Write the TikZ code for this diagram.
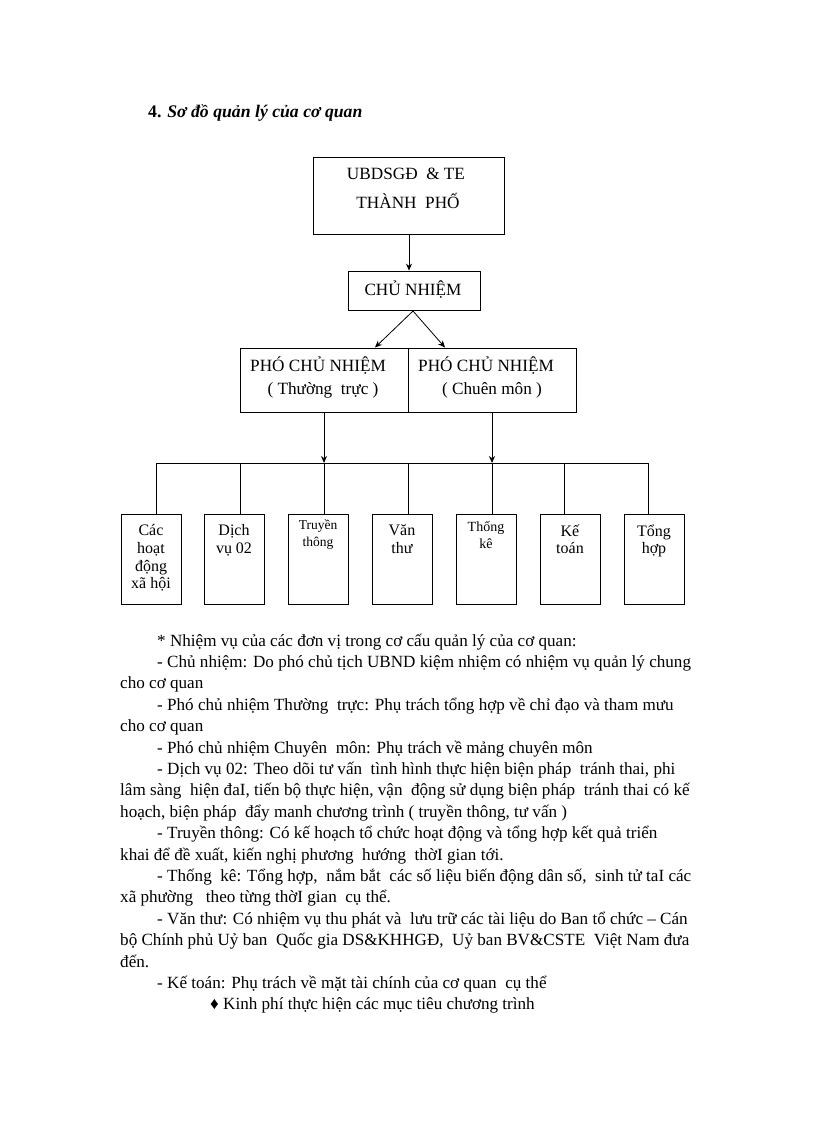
\documentclass[tikz,border=0pt]{standalone}
\usepackage{fontspec}
\setmainfont{Liberation Serif}
\usetikzlibrary{arrows.meta}
\begin{document}
\begin{tikzpicture}[x=1pt,y=-1pt,
 box/.style={draw, line width=0.8pt, inner sep=0pt},
 conn/.style={line width=0.8pt},
 arr/.style={conn,-{Stealth[length=7pt,width=6pt]}},
 lbl/.style={inner sep=0pt, font=\fontsize{17.2}{19}\selectfont},
 sml/.style={inner sep=0pt, align=center, anchor=north, font=\fontsize{16}{17.7}\selectfont},
 para/.style={inner sep=0pt, anchor=base west, font=\fontsize{17.1}{19}\selectfont},
]
\useasboundingbox[fill=white] (0,0) rectangle (816,1123);

% title
\node[para, font=\fontsize{17.7}{19}\selectfont\bfseries] (title) at (148,118) {4. \textit{Sơ đồ quản lý của cơ quan}};

% top boxes
\node[box, minimum width=191pt, minimum height=77pt] (ub) at (408.5,195.5) {};
\node[lbl] (ubt1) at (406,174) {UBDSGĐ\ \ \& TE};
\node[lbl] (ubt2) at (408,201) {THÀNH\ \ PHỐ};
\node[box, minimum width=132pt, minimum height=39pt] (cn) at (414,290.5) {};
\node[lbl] (cnt) at (413,290) {CHỦ NHIỆM};
\node[box, minimum width=168pt, minimum height=64pt] (p1) at (324,380.5) {};
\node[box, minimum width=168pt, minimum height=64pt] (p2) at (492,380.5) {};
\node[lbl, anchor=west] (p1a) at (250,366) {PHÓ CHỦ NHIỆM};
\node[lbl] (p1b) at (323,390) {( Thường\ \ trực )};
\node[lbl, anchor=west] (p2a) at (418,366) {PHÓ CHỦ NHIỆM};
\node[lbl] (p2b) at (492,390) {( Chuên môn )};

\coordinate (apex) at (413,311);
\draw[arr] (ub.south -| cn.north) ++(-5,0) coordinate (ubs) -- (ubs |- cn.north);
\draw[arr] (apex) -- (375,347.5);
\draw[arr] (apex) -- (445,347.5);

% bus
\coordinate (busL) at (156,463);
\coordinate (busR) at (648,463);
\draw[conn] (busL) -- (busR);
\draw[arr] (p1.south) -- (p1.south |- busL);
\draw[arr] (p2.south) -- (p2.south |- busL);

% small boxes
\foreach \n/\cx/\dx in {k1/151/156, k2/234/240, k3/318/324, k4/402/408, k5/486/492, k6/570/564, k7/654/648}{
  \node[box, minimum width=60pt, minimum height=90pt] (\n) at (\cx,559) {};
  \coordinate (d\n) at (\dx,463);
  \draw[conn] (d\n) -- (d\n |- \n.north);
}
\node[sml] (k1t) at (151,524.5) {Các\\hoạt\\động\\xã hội};
\node[sml] (k2t) at (234,524.5) {Dịch\\vụ 02};
\node[sml, font=\fontsize{13.5}{16.5}\selectfont] (k3t) at (318,520) {Truyền\\thông};
\node[sml] (k4t) at (402,524.5) {Văn\\thư};
\node[sml, font=\fontsize{14}{17}\selectfont] (k5t) at (486,521) {Thống\\kê};
\node[sml] (k6t) at (570,524.5) {Kế\\toán};
\node[sml] (k7t) at (654,524.5) {Tổng\\hợp};

% paragraph
\node[para] (l1) at (157,646) {* Nhiệm vụ của các đơn vị trong cơ cấu quản lý của cơ quan:};
\node[para] (l2) at (157,667.4) {- Chủ nhiệm: Do phó chủ tịch UBND kiệm nhiệm có nhiệm vụ quản lý chung};
\node[para] (l3) at (120,688.8) {cho cơ quan};
\node[para] (l4) at (157,710.2) {- Phó chủ nhiệm Thường\ \ trực: Phụ trách tổng hợp về chỉ đạo và tham mưu};
\node[para] (l5) at (120,731.6) {cho cơ quan};
\node[para] (l6) at (157,753) {- Phó chủ nhiệm Chuyên\ \ môn: Phụ trách về mảng chuyên môn};
\node[para] (l7) at (157,774.4) {- Dịch vụ 02: Theo dõi tư vấn\ \ tình hình thực hiện biện pháp\ \ tránh thai, phi};
\node[para] (l8) at (120,795.8) {lâm sàng\ \ hiện đaI, tiến bộ thực hiện, vận\ \ động sử dụng biện pháp\ \ tránh thai có kế};
\node[para] (l9) at (120,817.2) {hoạch, biện pháp\ \ đẩy manh chương trình ( truyền thông, tư vấn )};
\node[para] (l10) at (157,838.6) {- Truyền thông: Có kế hoạch tổ chức hoạt động và tổng hợp kết quả triển};
\node[para] (l11) at (120,860) {khai để đề xuất, kiến nghị phương\ \ hướng\ \ thờI gian tới.};
\node[para] (l12) at (157,881.4) {- Thống\ \ kê: Tổng hợp,\ \ nắm bắt\ \ các số liệu biến động dân số,\ \ sinh tử taI các};
\node[para] (l13) at (120,902.8) {xã phường\ \ \ theo từng thờI gian\ \ cụ thể.};
\node[para] (l14) at (157,924.2) {- Văn thư: Có nhiệm vụ thu phát và\ \ lưu trữ các tài liệu do Ban tổ chức – Cán};
\node[para] (l15) at (120,945.6) {bộ Chính phủ Uỷ ban\ \ Quốc gia DS\&KHHGĐ,\ \ Uỷ ban BV\&CSTE\ \ Việt Nam đưa};
\node[para] (l16) at (120,967) {đến.};
\node[para] (l17) at (157,988.4) {- Kế toán: Phụ trách về mặt tài chính của cơ quan\ \ cụ thể};
\node[para] (l18) at (210,1009.8) {♦ Kinh phí thực hiện các mục tiêu chương trình};
\end{tikzpicture}
\end{document}
